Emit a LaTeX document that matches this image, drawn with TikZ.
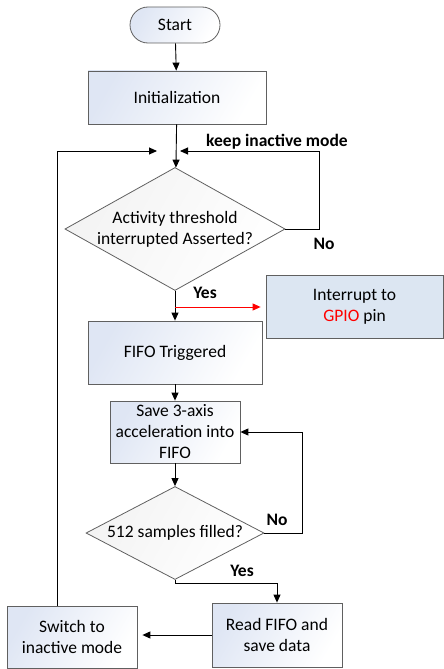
\documentclass[tikz,border=0pt]{standalone}
\usepackage{fontspec}
\setmainfont{Carlito}
\usetikzlibrary{shapes.geometric,arrows.meta,calc}
\definecolor{boxblue}{HTML}{DFE6F4}
\definecolor{gpioblue}{HTML}{DCE6F2}
\definecolor{edgegray}{HTML}{606060}
\definecolor{diagray}{HTML}{F3F3F3}
\begin{document}
\begin{tikzpicture}[x=1pt,y=-1pt,
  txt/.style={font=\fontsize{17.5}{21}\selectfont, align=center},
  box/.style={txt, draw=edgegray, line width=0.8pt, left color=boxblue, right color=white, shading angle=60, inner sep=0pt},
  term/.style={box, rounded corners=18pt},
  gpiobox/.style={txt, draw=edgegray, line width=0.8pt, fill=gpioblue, inner sep=0pt},
  dia/.style={txt, diamond, draw=edgegray, line width=0.8pt, left color=diagray, right color=white, shading angle=60, inner sep=0pt},
  lab/.style={font=\fontsize{17.5}{21}\selectfont\bfseries},
  arr/.style={draw=black, line width=0.9pt, -{Triangle[length=8pt,width=7pt]}},
  redarr/.style={draw=red, line width=0.9pt, -{Triangle[length=8pt,width=7pt]}}
]
\useasboundingbox (0,0) rectangle (444,669);

\node[term, minimum width=90pt, minimum height=36pt] (start) at (175,25) {Start};
\node[box, minimum width=178pt, minimum height=53pt] (init) at (177,97.5) {Initialization};
\coordinate (m) at (175,151);
\node[dia, minimum width=211pt, minimum height=118pt, shape aspect=1.79] (d1) at (175,229) {Activity threshold\\interrupted Asserted?};
\node[box, minimum width=174pt, minimum height=63pt] (fifo) at (175,352.5) {FIFO Triggered};
\node[gpiobox, minimum width=177pt, minimum height=63pt] (gpio) at (354.5,307) {Interrupt to\\\textcolor{red}{GPIO} pin};
\node[box, minimum width=130pt, minimum height=62pt] (save) at (175,432) {Save 3-axis\\acceleration into\\FIFO};
\node[dia, minimum width=178pt, minimum height=93pt, shape aspect=1.91] (d2) at (175,533) {512 samples filled?};
\node[box, minimum width=130pt, minimum height=64pt] (read) at (277,635) {Read FIFO and\\save data};
\node[box, minimum width=130pt, minimum height=62pt] (switch) at (72,637) {Switch to\\inactive mode};

\node[lab] (kim) at (277,142) {keep inactive mode};
\node[lab] (no1) at (324,244) {No};
\node[lab] (yes1) at (205,293) {Yes};
\node[lab] (no2) at (277,520) {No};
\node[lab] (yes2) at (242,571) {Yes};

\draw[arr] (start) -- (init);
\draw[arr] (init) -- (d1);
\draw[arr, shorten >=5pt] (d1.east) -- ++(34,0) |- (m);
\draw[arr, shorten >=18pt] ([xshift=-15pt]switch.north) |- (m);
\draw[arr] (d1) -- (fifo);
\draw[redarr, shorten >=5pt] (d1.south |- gpio.west) -- (gpio.west);
\draw[arr] (fifo) -- (save);
\draw[arr] (save) -- (d2);
\draw[arr] (d2.east) -- ++(38,0) |- (save.east);
\draw[arr] (d2.south) -- ++(0,4) -| (read.north);
\draw[arr, shorten >=5pt] (read.west) -- (read.west -| switch.east);
\end{tikzpicture}
\end{document}
